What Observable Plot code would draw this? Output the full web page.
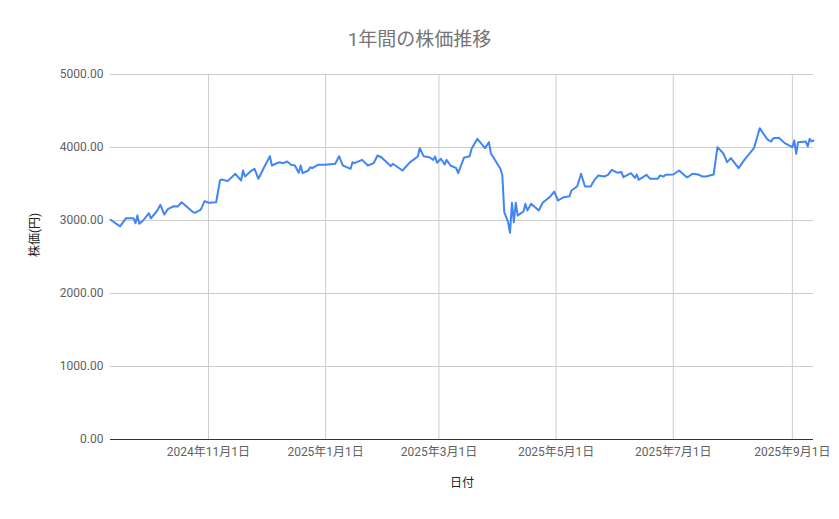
<!DOCTYPE html>
<html>
<head>
<meta charset="utf-8">
<script src="https://cdn.jsdelivr.net/npm/d3@7"></script>
<script src="https://cdn.jsdelivr.net/npm/@observablehq/plot@0.6"></script>
<style>
  body { margin: 0; background: #fff; font-family: Roboto, "Noto Sans CJK JP", sans-serif; }
  #title { height: 60px; width: 839px; text-align: center; font-size: 19px; color: #757575; line-height: 80px; }
  #chart svg { display: block; }
</style>
</head>
<body>
<div id="title">1年間の株価推移</div>
<div id="chart"></div>
<script>
const dates = [
"2024-09-11","2024-09-16","2024-09-19","2024-09-23","2024-09-24","2024-09-25","2024-09-26","2024-09-28",
"2024-10-01","2024-10-02","2024-10-05","2024-10-07","2024-10-09","2024-10-11","2024-10-14","2024-10-16","2024-10-18","2024-10-20","2024-10-24","2024-10-25","2024-10-28","2024-10-30",
"2024-11-01","2024-11-05","2024-11-07","2024-11-08","2024-11-11","2024-11-15","2024-11-18","2024-11-19","2024-11-20","2024-11-23","2024-11-25","2024-11-27","2024-11-30",
"2024-12-03","2024-12-04","2024-12-06","2024-12-08","2024-12-10","2024-12-12","2024-12-14","2024-12-16","2024-12-18","2024-12-19","2024-12-20","2024-12-23","2024-12-24","2024-12-25","2024-12-28",
"2025-01-01","2025-01-06","2025-01-08","2025-01-10","2025-01-14","2025-01-15","2025-01-16","2025-01-20","2025-01-23","2025-01-26","2025-01-28","2025-01-30",
"2025-02-04","2025-02-05","2025-02-10","2025-02-14","2025-02-18","2025-02-19","2025-02-21","2025-02-24","2025-02-26","2025-02-27","2025-02-28",
"2025-03-02","2025-03-04","2025-03-05","2025-03-07","2025-03-10","2025-03-11","2025-03-14","2025-03-17","2025-03-18","2025-03-21","2025-03-25","2025-03-27","2025-03-28",
"2025-04-02","2025-04-03","2025-04-04","2025-04-06","2025-04-07","2025-04-08","2025-04-09","2025-04-10","2025-04-11","2025-04-13","2025-04-14","2025-04-15","2025-04-16","2025-04-18","2025-04-22","2025-04-24","2025-04-28","2025-04-30",
"2025-05-02","2025-05-05","2025-05-08","2025-05-09","2025-05-11","2025-05-12","2025-05-14","2025-05-16","2025-05-19","2025-05-21","2025-05-23","2025-05-26","2025-05-28","2025-05-30",
"2025-06-02","2025-06-04","2025-06-05","2025-06-09","2025-06-11","2025-06-12","2025-06-13","2025-06-17","2025-06-19","2025-06-23","2025-06-24","2025-06-26","2025-06-27",
"2025-07-01","2025-07-04","2025-07-08","2025-07-09","2025-07-11","2025-07-14","2025-07-16","2025-07-18","2025-07-22","2025-07-24","2025-07-27","2025-07-29","2025-07-31",
"2025-08-04","2025-08-07","2025-08-12","2025-08-15","2025-08-19","2025-08-21","2025-08-22","2025-08-25","2025-08-28",
"2025-09-01","2025-09-02","2025-09-03","2025-09-04","2025-09-08","2025-09-09","2025-09-10","2025-09-11","2025-09-12"
];
const prices = [
3010,2920,3030,3030,2963,3070,2955,3000,
3100,3030,3123,3215,3082,3160,3195,3192,3250,3205,3114,3105,3150,3265,
3243,3250,3548,3562,3539,3640,3548,3685,3603,3676,3708,3571,3730,
3881,3753,3777,3799,3785,3808,3763,3753,3653,3753,3648,3685,3730,3717,3763,
3763,3777,3881,3753,3708,3799,3785,3831,3753,3785,3890,3867,
3744,3777,3685,3799,3877,3991,3881,3867,3831,3877,3790,
3845,3767,3831,3753,3717,3648,3859,3881,3982,4119,3991,4073,3922,
3708,3616,3114,2977,2831,3243,2977,3243,3068,3105,3123,3229,3137,3229,3137,3243,3329,3397,
3274,3320,3333,3411,3448,3470,3640,3466,3466,3557,3616,3603,3626,3694,
3653,3665,3593,3648,3584,3630,3557,3626,3571,3571,3616,3603,3626,
3630,3685,3593,3603,3640,3630,3603,3603,3630,4005,3922,3799,3854,
3717,3831,3991,4265,4110,4082,4128,4133,4060,
4005,4096,3913,4073,4082,4014,4119,4082,4096
];
const xTicks = ["2024-11-01","2025-01-01","2025-03-01","2025-05-01","2025-07-01","2025-09-01"];
const yTicks = [0, 1000, 2000, 3000, 4000, 5000];
const xTitle = "日付";
const yTitle = "株価(円)";

const data = dates.map((d, i) => ({date: new Date(d), price: prices[i]}));
const tickDates = xTicks.map(d => new Date(d));
const fmtDate = d => `${d.getUTCFullYear()}年${d.getUTCMonth() + 1}月${d.getUTCDate()}日`;

const chart = Plot.plot({
  width: 839,
  height: 459,
  marginLeft: 110,
  marginRight: 26,
  marginTop: 14,
  marginBottom: 80,
  style: {fontFamily: 'Roboto, "Noto Sans CJK JP", sans-serif', fontSize: "12px", background: "#fff"},
  x: {type: "utc", domain: d3.extent(data, d => d.date)},
  y: {domain: [0, 5000]},
  marks: [
    Plot.gridY(yTicks, {stroke: "#cccccc", strokeOpacity: 1}),
    Plot.gridX(tickDates, {stroke: "#cccccc", strokeOpacity: 1}),
    Plot.axisY(yTicks, {tickSize: 0, tickPadding: 7, tickFormat: d3.format(".2f"), label: null, fill: "#616161", fontSize: 12}),
    Plot.axisX(tickDates, {tickSize: 0, tickPadding: 8, tickFormat: fmtDate, label: null, fill: "#616161", fontSize: 12}),
    Plot.ruleY([0], {stroke: "#333333", strokeWidth: 1}),
    Plot.line(data, {x: "date", y: "price", stroke: "#4285F4", strokeWidth: 2}),
    Plot.text([xTitle], {frameAnchor: "bottom", dy: 47, fill: "#222222", fontSize: 12}),
    Plot.text([yTitle], {frameAnchor: "left", dx: -75, rotate: -90, fill: "#222222", fontSize: 12})
  ]
});
document.getElementById("chart").appendChild(chart);
</script>
</body>
</html>
